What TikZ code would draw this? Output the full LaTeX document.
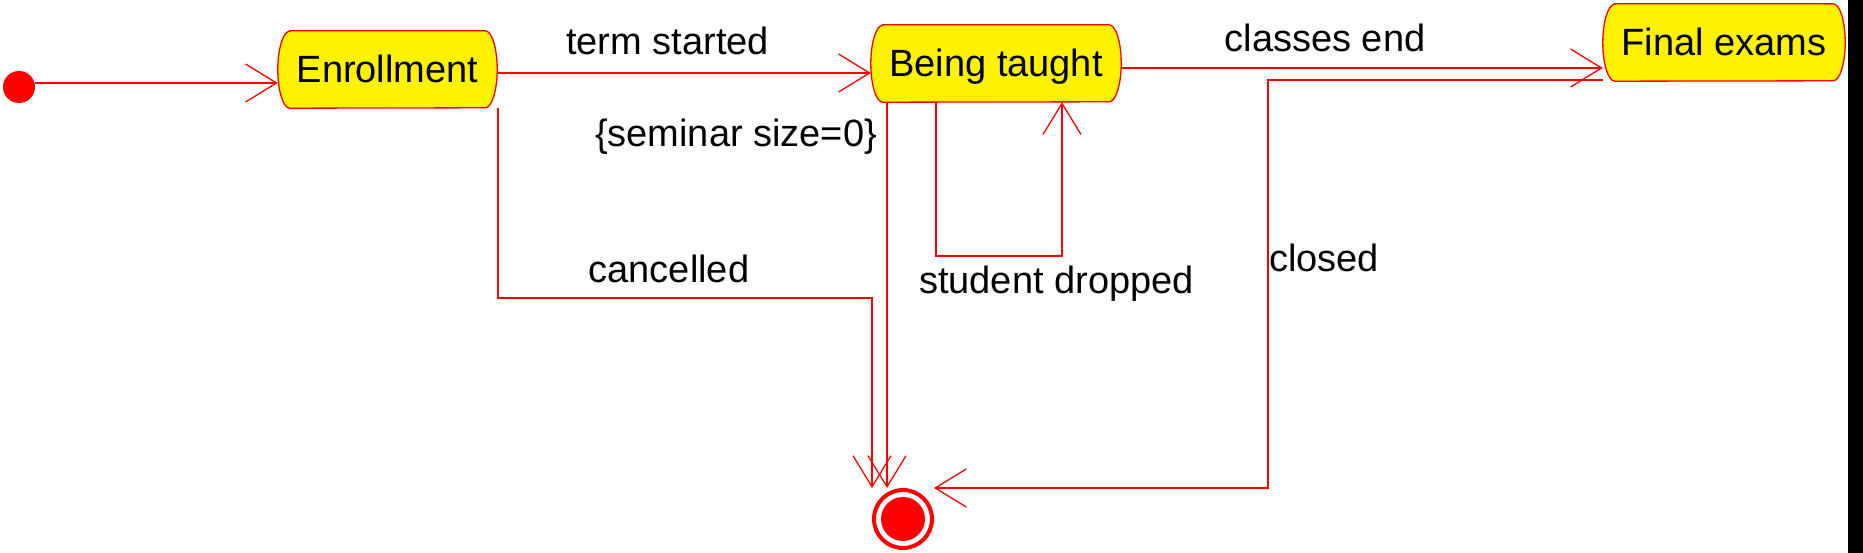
\documentclass[tikz,border=0pt]{standalone}
\usepackage{fontspec}
\setmainfont{Liberation Sans}
\usetikzlibrary{arrows.meta,backgrounds}
\begin{document}
\begin{tikzpicture}[x=1pt,y=-1pt,
  stateshape/.style={minimum width=#1, minimum height=77pt, inner sep=0pt,
    text height=27pt, text depth=0pt, font=\fontsize{38}{46}\selectfont},
  lbl/.style={anchor=base, inner sep=0pt, font=\fontsize{38}{46}\selectfont},
  tr/.style={draw=red, line width=1.3pt, -{Straight Barb[length=31pt,width=38pt]}},
  outline/.style={draw=red, fill=yellow, line width=1.3pt}
]
\useasboundingbox (0,0) rectangle (1863,553);
\fill[black] (1848,0) rectangle (1863,553);

% states
\node[stateshape=219pt] (enr) at (387.5,69.5) {Enrollment};
\node[stateshape=250pt] (bt) at (996,63.5) {Being taught};
\node[stateshape=242pt] (fe) at (1724,42.5) {Final exams};
\begin{scope}[on background layer]
\foreach \n in {enr,bt,fe}{
  \draw[outline] ([xshift=12pt]\n.north west) -- ([xshift=-12pt]\n.north east)
    arc[start angle=90, end angle=-90, x radius=12pt, y radius=38.5pt]
    -- ([xshift=12pt]\n.south west)
    arc[start angle=270, end angle=90, x radius=12pt, y radius=38.5pt] -- cycle;
}
\end{scope}

% pseudo states
\node[circle, fill=red, minimum size=32pt, inner sep=0pt] (ini) at (19,87) {};
\node[circle, draw=red, line width=4pt, minimum size=58pt, inner sep=0pt,
  path picture={\fill[red] (path picture bounding box.center) circle[radius=22pt];}] (fin) at (903,519) {};
\coordinate (fintop) at (903,488);

% labels
\node[lbl] (lterm) at (667.5,55) {term started};
\node[lbl] (lclass) at (1325,52) {classes end};
\node[lbl] (lsem) at (736,147) {\{seminar size=0\}};
\node[lbl] (lcanc) at (669,283) {cancelled};
\node[lbl] (ldrop) at (1056.5,294) {student dropped};
\node[lbl] (lclosed) at (1324,272) {closed};

% transitions
\draw[tr] ([yshift=4pt]ini.east) -- (enr.west |- 0,83);
\draw[tr] (enr.east |- 0,73) -- (bt.west |- 0,73);
\draw[tr] (bt.east |- 0,68) -- (fe.west |- 0,68);
\draw[tr] (498,0 |- enr.south) |- (872,298) -- (872,0 |- fintop);
\draw[tr] (887,0 |- bt.south) -- (887,0 |- fintop);
\draw[tr] (936,0 |- bt.south) |- (1062,256) -- (1062,0 |- bt.south);
\draw[tr] (fe.west |- 0,80) -| (1268,0 |- fintop) -- (934,0 |- fintop);
\end{tikzpicture}
\end{document}
